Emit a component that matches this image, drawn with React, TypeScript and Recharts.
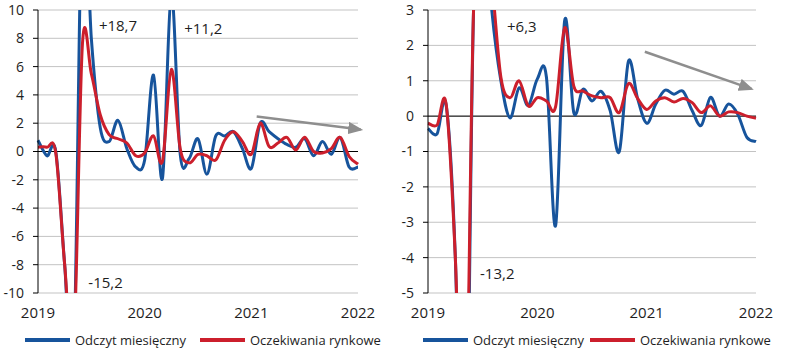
import { CartesianGrid, Line, LineChart, ReferenceDot, ReferenceLine, XAxis, YAxis } from 'recharts'

// month index 0 = Jan 2019 ... 36 = Jan 2022
const months = Array.from({ length: 37 }, (_, i) => i)
const yearTicks = [0, 12, 24, 36]
const yearLabels = ['2019', '2020', '2021', '2022']

const leftActual = [
  0.8, -0.3, 0.0, -8, -15.2, 18.7, 8, 1.7, 0.7, 2.2, 0.2, -1.1, -0.6, 5.4, -1.9, 11.2, -0.2, -0.5, 0.9,
  -1.6, 1.1, 1.1, 1.4, 0.2, -1.2, 2.0, 1.4, 0.9, 0.5, 0.3, 0.9, -0.3, 0.7, -0.2, 1.0, -1.1, -1.1,
]
const leftExpected = [
  0.3, 0.3, -0.1, -8, -14, 7.6, 5.5, 2.6, 1.2, 0.9, 0.6, -0.3, -0.1, 1.1, -0.7, 5.8, 0.2, -0.8, -0.2,
  -0.3, -0.6, 0.8, 1.4, 0.7, -0.2, 2.0, 0.35, 0.6, 1.0, 0.1, 1.0, 0.0, -0.1, 0.2, 1.0, -0.35, -0.9,
]
const rightActual = [
  -0.35, -0.5, 0.3, -4, -13.2, 3.0, 6.3, 3.0, 1.0, -0.05, 0.8, 0.3, 1.05, 1.1, -3.1, 2.7, 0.1, 0.76, 0.43,
  0.7, 0.15, -1.0, 1.55, 0.5, -0.2, 0.34, 0.73, 0.62, 0.7, 0.15, -0.26, 0.53, 0.0, 0.34, 0.05, -0.6, -0.72,
]
const rightExpected = [
  -0.2, -0.25, 0.32, -4, -11, 3.0, 5.5, 3.8, 1.1, 0.52, 1.0, 0.29, 0.52, 0.43, 0.26, 2.5, 0.85, 0.71, 0.57,
  0.52, 0.52, 0.1, 0.92, 0.5, 0.19, 0.43, 0.52, 0.4, 0.5, 0.38, 0.1, 0.29, 0.0, 0.12, 0.1, 0.0, -0.06,
]

const leftTicks = [-10, -8, -6, -4, -2, 0, 2, 4, 6, 8, 10]
const rightTicks = [-5, -4, -3, -2, -1, 0, 1, 2, 3]

const leftNotes = [
  { x: 9, y: 8.9, text: '+18,7' },
  { x: 18.6, y: 8.7, text: '+11,2' },
  { x: 7.6, y: -9.25, text: '-15,2' },
]
const rightNotes = [
  { x: 10.3, y: 2.53, text: '+6,3' },
  { x: 7.6, y: -4.45, text: '-13,2' },
]
const leftTrend = [{ x: 24.6, y: 2.47 }, { x: 36.3, y: 1.55 }]
const rightTrend = [{ x: 23.8, y: 1.82 }, { x: 35.5, y: 0.77 }]

const seriesNames = ['Odczyt miesięczny', 'Oczekiwania rynkowe']

const BLUE = '#17549c'
const RED = '#cc1f2c'
const GREY = '#8e8e8e'
const FONT = '"Open Sans", sans-serif'

// Excel-style smoothed line (Catmull-Rom through every point)
function excelSmooth(context: any) {
  let pts: number[][] = []
  return {
    areaStart() {},
    areaEnd() {},
    lineStart() {
      pts = []
    },
    point(x: number, y: number) {
      pts.push([+x, +y])
    },
    lineEnd() {
      if (!pts.length) return
      context.moveTo(pts[0][0], pts[0][1])
      for (let i = 0; i < pts.length - 1; i++) {
        const p0 = pts[i - 1] || pts[i]
        const p1 = pts[i]
        const p2 = pts[i + 1]
        const p3 = pts[i + 2] || p2
        context.bezierCurveTo(
          p1[0] + (p2[0] - p0[0]) / 6,
          p1[1] + (p2[1] - p0[1]) / 6,
          p2[0] - (p3[0] - p1[0]) / 6,
          p2[1] - (p3[1] - p1[1]) / 6,
          p2[0],
          p2[1],
        )
      }
    },
  }
}

interface PanelProps {
  id: string
  width: number
  yWidth: number
  marginRight: number
  actual: number[]
  expected: number[]
  ticks: number[]
  notes: { x: number; y: number; text: string }[]
  trend: { x: number; y: number }[]
}

function Panel({ id, width, yWidth, marginRight, actual, expected, ticks, notes, trend }: PanelProps) {
  const data = months.map((m, i) => ({ m, actual: actual[i], expected: expected[i] }))
  const tickStyle = { fontSize: 14, fill: '#1e1e1e', fontFamily: FONT }
  return (
    <LineChart width={width} height={358} data={data} margin={{ top: 10, right: marginRight, bottom: 36, left: 0 }}>
      <defs>
        <marker id={`${id}-head`} markerWidth={6} markerHeight={5} refX={5} refY={2.5} orient="auto">
          <path d="M0,0 L6,2.5 L0,5 z" fill={GREY} />
        </marker>
      </defs>
      <CartesianGrid vertical={false} stroke="#c3c3c3" />
      <XAxis
        dataKey="m"
        type="number"
        domain={[0, 36]}
        ticks={yearTicks}
        tickFormatter={(v) => yearLabels[yearTicks.indexOf(v)]}
        axisLine={false}
        tickLine={false}
        tickSize={0}
        tickMargin={14}
        height={29}
        tick={{ ...tickStyle, fontSize: 15 }}
        interval={0}
      />
      <YAxis
        domain={[ticks[0], ticks[ticks.length - 1]]}
        ticks={ticks}
        allowDataOverflow
        interval={0}
        width={yWidth}
        axisLine={{ stroke: '#000' }}
        tickLine={{ stroke: '#000' }}
        tickSize={5}
        tickMargin={9}
        tick={tickStyle}
      />
      <ReferenceLine y={0} stroke="#000" />
      <ReferenceLine
        segment={trend}
        ifOverflow="visible"
        stroke={GREY}
        strokeWidth={2.5}
        shape={(p: any) => (
          <line x1={p.x1} y1={p.y1} x2={p.x2} y2={p.y2} stroke={GREY} strokeWidth={2.5} markerEnd={`url(#${id}-head)`} />
        )}
      />
      <Line
        dataKey="actual"
        name={seriesNames[0]}
        type={excelSmooth as any}
        stroke={BLUE}
        strokeWidth={3}
        dot={false}
        activeDot={false}
        isAnimationActive={false}
      />
      <Line
        dataKey="expected"
        name={seriesNames[1]}
        type={excelSmooth as any}
        stroke={RED}
        strokeWidth={3}
        dot={false}
        activeDot={false}
        isAnimationActive={false}
      />
      {notes.map((n) => (
        <ReferenceDot
          key={n.text}
          x={n.x}
          y={n.y}
          r={0}
          fill="none"
          stroke="none"
          ifOverflow="visible"
          label={{ value: n.text, position: 'center', fontSize: 15, fill: '#1e1e1e', fontFamily: FONT }}
        />
      ))}
    </LineChart>
  )
}

function LegendItem({ left, color, text }: { left: number; color: string; text: string }) {
  return (
    <div style={{ position: 'absolute', left, top: 330, height: 20, display: 'flex', alignItems: 'center' }}>
      <div style={{ width: 45, height: 4, background: color, marginRight: 5 }} />
      <span style={{ fontFamily: FONT, fontSize: 13, color: '#1e1e1e', whiteSpace: 'nowrap' }}>{text}</span>
    </div>
  )
}

export default function App() {
  return (
    <div style={{ position: 'absolute', left: 0, top: 0, width: 785, height: 358, background: '#fff' }}>
      <div style={{ position: 'absolute', left: 0, top: 0 }}>
        <Panel
          id="l"
          width={392}
          yWidth={38}
          marginRight={34}
          actual={leftActual}
          expected={leftExpected}
          ticks={leftTicks}
          notes={leftNotes}
          trend={leftTrend}
        />
      </div>
      <div style={{ position: 'absolute', left: 392, top: 0 }}>
        <Panel
          id="r"
          width={393}
          yWidth={36}
          marginRight={29}
          actual={rightActual}
          expected={rightExpected}
          ticks={rightTicks}
          notes={rightNotes}
          trend={rightTrend}
        />
      </div>
      <LegendItem left={25} color={BLUE} text={seriesNames[0]} />
      <LegendItem left={200} color={RED} text={seriesNames[1]} />
      <LegendItem left={423} color={BLUE} text={seriesNames[0]} />
      <LegendItem left={590} color={RED} text={seriesNames[1]} />
    </div>
  )
}
